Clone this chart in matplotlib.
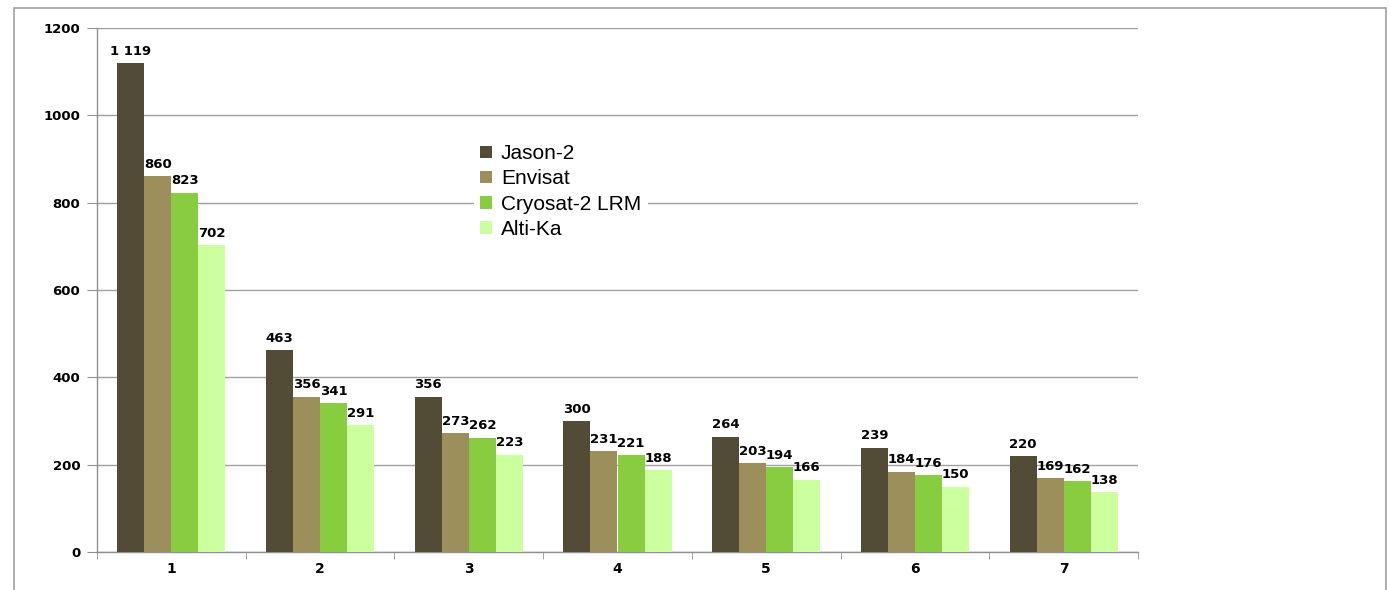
import matplotlib.pyplot as plt
from matplotlib.patches import Rectangle
import numpy as np

CATEGORIES = ['1', '2', '3', '4', '5', '6', '7']
SERIES = ['Jason-2', 'Envisat', 'Cryosat-2 LRM', 'Alti-Ka']
JASON2 = [1119, 463, 356, 300, 264, 239, 220]
ENVISAT = [860, 356, 273, 231, 203, 184, 169]
CRYOSAT2 = [823, 341, 262, 221, 194, 176, 162]
ALTIKA = [702, 291, 223, 188, 166, 150, 138]
COLORS = ['#524b35', '#9c8f5c', '#88cc40', '#ccff9e']
Y_TICKS = [0, 200, 400, 600, 800, 1000, 1200]


def fmt(v):
    # thousands separated by a space
    return f"{v:,}".replace(",", " ")


def main():
    fig = plt.figure(figsize=(13.9, 5.9), dpi=100)
    fig.patch.set_facecolor('white')

    # outer frame of the chart area
    fig.add_artist(Rectangle((14 / 1390, -0.05), 1372 / 1390, 1.05 - 8 / 590,
                             transform=fig.transFigure, fill=False,
                             edgecolor='#a0a0a0', linewidth=1.2))

    ax = fig.add_axes([97 / 1390, 38 / 590, 1041 / 1390, 524 / 590])

    data = [JASON2, ENVISAT, CRYOSAT2, ALTIKA]
    x = np.arange(len(CATEGORIES))
    width = 0.182
    offsets = (np.arange(len(SERIES)) - 1.5) * width

    for vals, name, color, off in zip(data, SERIES, COLORS, offsets):
        bars = ax.bar(x + off, vals, width, color=color, label=name,
                      zorder=3, linewidth=0)
        for b, v in zip(bars, vals):
            ax.text(b.get_x() + b.get_width() / 2, v + 12, fmt(v),
                    ha='center', va='bottom', fontsize=9.5,
                    fontweight='bold', color='black', zorder=4)

    ax.set_xlim(-0.5, len(CATEGORIES) - 0.5)
    ax.set_ylim(0, 1200)
    ax.set_yticks(Y_TICKS)
    ax.set_yticklabels([str(t) for t in Y_TICKS], fontsize=9.5, fontweight='bold')
    ax.set_xticks(x)
    ax.set_xticklabels(CATEGORIES, fontsize=10, fontweight='bold')
    ax.set_xticks(np.arange(len(CATEGORIES) + 1) - 0.5, minor=True)
    ax.tick_params(axis='x', which='major', length=0, pad=7)
    ax.tick_params(axis='x', which='minor', length=5, color='#909090', direction='out')
    ax.tick_params(axis='y', length=7, color='#909090', direction='out', pad=5)

    ax.grid(axis='y', color='#a0a0a0', linewidth=1.0, zorder=0)
    for side in ('top', 'right'):
        ax.spines[side].set_visible(False)
    for side in ('left', 'bottom'):
        ax.spines[side].set_color('#909090')
        ax.spines[side].set_linewidth(1.0)

    leg = ax.legend(loc='upper left', bbox_to_anchor=(474 / 1390, 1 - 138 / 590),
                    bbox_transform=fig.transFigure, frameon=True,
                    prop={'family': 'Liberation Sans', 'size': 15},
                    handlelength=0.55, handleheight=0.55, handletextpad=0.45,
                    labelspacing=0.3, borderpad=0.3, borderaxespad=0)
    leg.get_frame().set_facecolor('white')
    leg.get_frame().set_edgecolor('none')
    leg.get_frame().set_alpha(1)

    fig.savefig('out.png', dpi=100)


if __name__ == "__main__":
    main()
